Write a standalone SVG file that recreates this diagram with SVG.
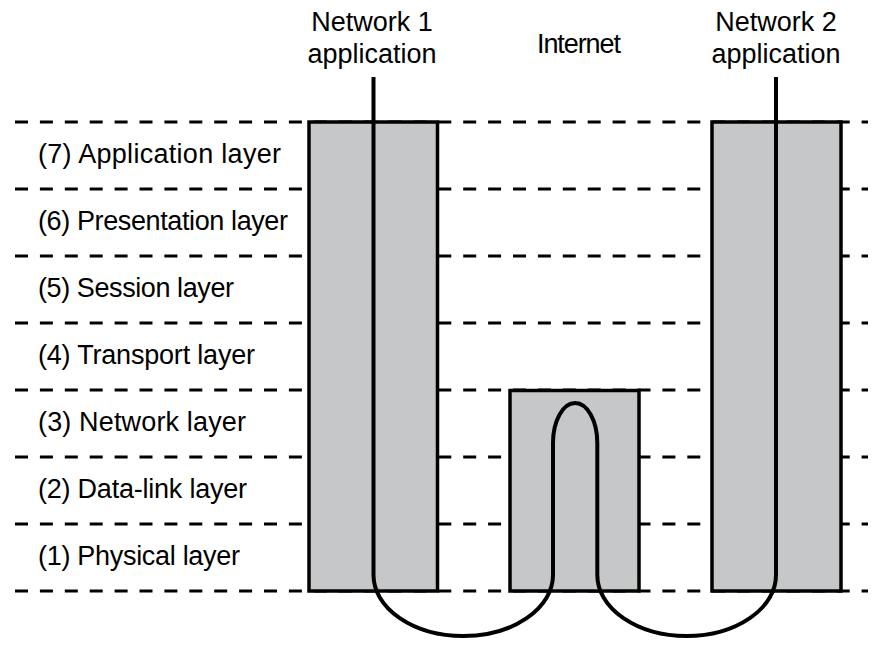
<svg xmlns="http://www.w3.org/2000/svg" width="877" height="655" viewBox="0 0 877 655">
  <style>
    .dash { stroke: #000; stroke-width: 3; stroke-dasharray: 13 11.9; fill: none; }
    .box { fill: #c6c7c9; stroke: #000; stroke-width: 3.5; }
    .lbl { font-family: "Liberation Sans", Arial, sans-serif; font-size: 27px; fill: #000; }
    .ctr { text-anchor: middle; }
    .wire { fill: none; stroke: #000; stroke-width: 4; }
  </style>
  <rect width="877" height="655" fill="#fff"/>
  <g id="layer-lines">
    <line class="dash" x1="15" y1="122" x2="868" y2="122"/>
    <line class="dash" x1="15" y1="189" x2="868" y2="189"/>
    <line class="dash" x1="15" y1="256" x2="868" y2="256"/>
    <line class="dash" x1="15" y1="323" x2="868" y2="323"/>
    <line class="dash" x1="15" y1="390" x2="868" y2="390"/>
    <line class="dash" x1="15" y1="457" x2="868" y2="457"/>
    <line class="dash" x1="15" y1="524" x2="868" y2="524"/>
    <line class="dash" x1="15" y1="591" x2="868" y2="591"/>
  </g>
  <g id="layer-labels">
    <text class="lbl" x="38" y="163" textLength="243">(7) Application layer</text>
    <text class="lbl" x="38" y="230" textLength="250">(6) Presentation layer</text>
    <text class="lbl" x="38" y="297" textLength="196">(5) Session layer</text>
    <text class="lbl" x="38" y="364" textLength="217">(4) Transport layer</text>
    <text class="lbl" x="38" y="431" textLength="208">(3) Network layer</text>
    <text class="lbl" x="38" y="498" textLength="209">(2) Data-link layer</text>
    <text class="lbl" x="38" y="565" textLength="202">(1) Physical layer</text>
  </g>
  <g id="network1">
    <rect class="box" x="309" y="122" width="128.5" height="469"/>
    <text class="lbl ctr" x="372" y="31">Network 1</text>
    <text class="lbl ctr" x="372" y="63">application</text>
  </g>
  <g id="internet">
    <rect class="box" x="510" y="390.5" width="129" height="200.5"/>
    <text class="lbl ctr" x="579" y="53" textLength="84">Internet</text>
  </g>
  <g id="network2">
    <rect class="box" x="712" y="122" width="129" height="469"/>
    <text class="lbl ctr" x="776" y="31">Network 2</text>
    <text class="lbl ctr" x="776" y="63">application</text>
  </g>
  <g id="connectors">
    <path class="wire" d="M373.5,77 V575 A89.75,61 0 0 0 553,575 V443 A22.15,40 0 0 1 597.3,443 V575 A89.35,61 0 0 0 776,575 V77"/>
  </g>
</svg>
